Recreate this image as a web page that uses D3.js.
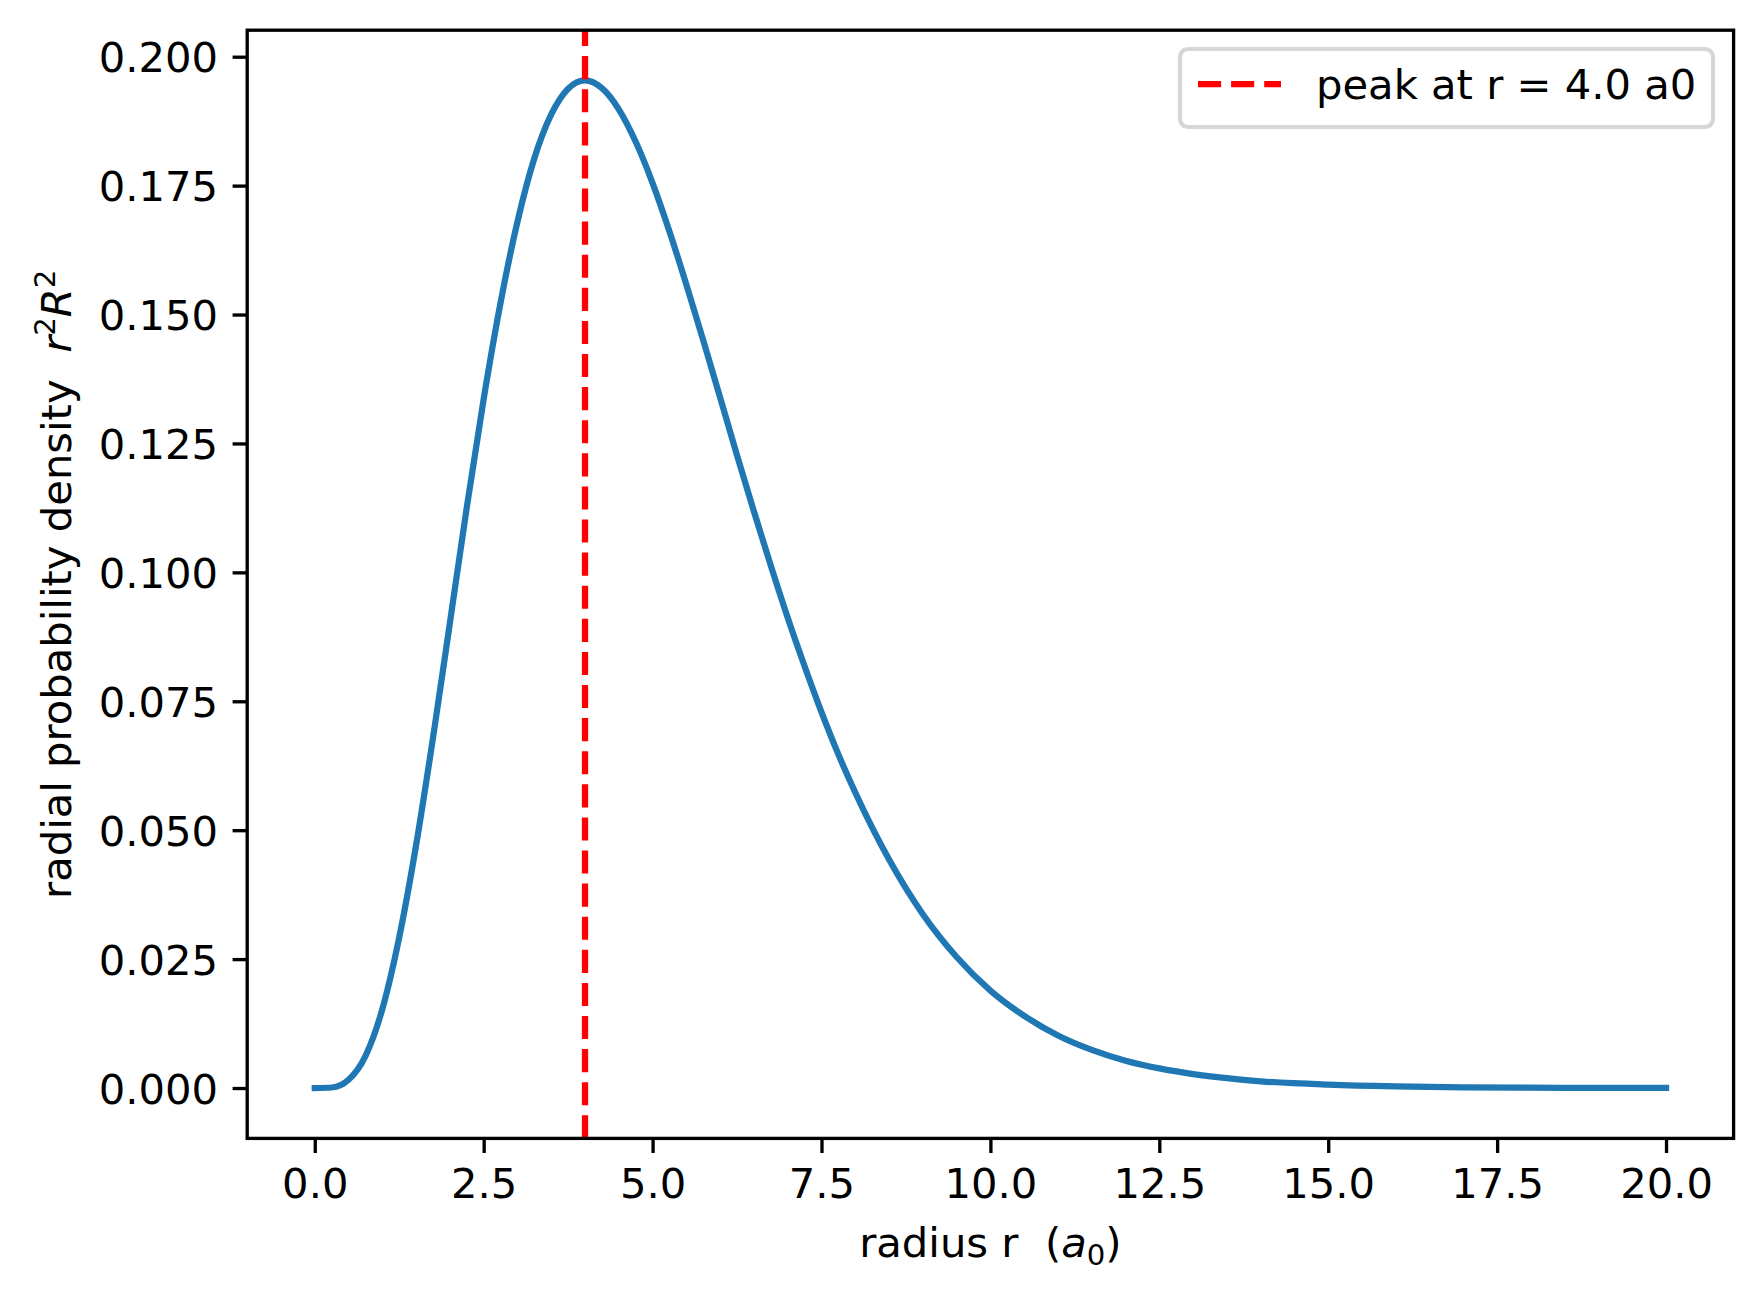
<!DOCTYPE html>
<html>
<head>
<meta charset="utf-8">
<script src="https://cdn.jsdelivr.net/npm/d3@7"></script>
<style>
  body { margin: 0; background: #fff; }
  text { font-family: "DejaVu Sans", sans-serif; }
</style>
</head>
<body>
<div id="chart"></div>
<script>
// values
const radius = [0, 0.25, 0.5, 0.75, 1, 1.25, 1.5, 1.75, 2, 2.25, 2.5, 2.75, 3, 3.25, 3.5, 3.75,
  4, 4.25, 4.5, 4.75, 5, 5.25, 5.5, 5.75, 6, 6.25, 6.5, 6.75, 7, 7.25, 7.5, 7.75,
  8, 8.5, 9, 9.5, 10, 10.5, 11, 11.5, 12, 12.5, 13, 13.5, 14, 15, 16, 17, 18, 19, 20];
const density = [0, 0.0001, 0.0016, 0.0062, 0.0153, 0.0292, 0.0471, 0.0679, 0.0902, 0.1126, 0.1336, 0.1523, 0.1680, 0.1803, 0.1888, 0.1938,
  0.1954, 0.1939, 0.1898, 0.1835, 0.1755, 0.1661, 0.1558, 0.1450, 0.1339, 0.1227, 0.1118, 0.1013, 0.0912, 0.0818, 0.0729, 0.0647,
  0.0573, 0.0443, 0.0337, 0.0254, 0.0189, 0.0140, 0.0102, 0.0074, 0.0053, 0.0038, 0.0027, 0.0019, 0.0013, 0.00065, 0.00031, 0.00014, 0.00007, 0.00003, 0.00001];
const peakR = 4.0;
const xTicks = [0, 2.5, 5, 7.5, 10, 12.5, 15, 17.5, 20];
const yTicks = [0, 0.025, 0.05, 0.075, 0.1, 0.125, 0.15, 0.175, 0.2];

const W = 1763, H = 1298;
const box = {l: 247.2, r: 1733.6, t: 30.2, b: 1138.4};
const fs = 41.7;          // 10pt at 300 dpi
const spineW = 3.33, tickLen = 14.6;

const svg = d3.select("#chart").append("svg")
    .attr("width", W).attr("height", H);
svg.append("rect").attr("width", W).attr("height", H).attr("fill", "#fff");

const x = d3.scaleLinear().domain([-1, 21]).range([box.l, box.r]);
const y = d3.scaleLinear().domain([-0.00977, 0.20514]).range([box.b, box.t]);

svg.append("clipPath").attr("id", "clip")
    .append("rect")
    .attr("x", box.l).attr("y", box.t)
    .attr("width", box.r - box.l).attr("height", box.b - box.t);

const plot = svg.append("g").attr("clip-path", "url(#clip)");

//curve
const pts = radius.map((r, i) => [r, density[i]]);
plot.append("path")
    .datum(pts)
    .attr("fill", "none")
    .attr("stroke", "#1f77b4")
    .attr("stroke-width", 6.25)
    .attr("stroke-linecap", "square")
    .attr("stroke-linejoin", "round")
    .attr("d", d3.line()
        .x(d => x(d[0]))
        .y(d => y(d[1]))
        .curve(d3.curveMonotoneX));

//peak marker
plot.append("line")
    .attr("x1", x(peakR)).attr("x2", x(peakR))
    .attr("y1", box.b).attr("y2", box.t)
    .attr("stroke", "red")
    .attr("stroke-width", 6.25)
    .attr("stroke-dasharray", "23.1 10");

//axes
const axisX = d3.axisBottom(x).tickValues(xTicks).tickFormat(d3.format(".1f"))
    .tickSize(tickLen).tickPadding(14.6);
const axisY = d3.axisLeft(y).tickValues(yTicks).tickFormat(d3.format(".3f"))
    .tickSize(tickLen).tickPadding(14.6);

const gx = svg.append("g").attr("transform", `translate(0,${box.b})`).call(axisX);
const gy = svg.append("g").attr("transform", `translate(${box.l},0)`).call(axisY);
[gx, gy].forEach(g => {
    g.select(".domain").remove();
    g.selectAll(".tick line").attr("stroke", "#000").attr("stroke-width", spineW);
    g.selectAll(".tick text").attr("fill", "#000")
        .style("font-family", "DejaVu Sans").attr("font-size", fs);
});
gx.selectAll(".tick text").attr("dy", null).attr("y", tickLen + 14.6 + 30.4);
gy.selectAll(".tick text").attr("dy", "0.36em");

//frame
svg.append("rect")
    .attr("x", box.l).attr("y", box.t)
    .attr("width", box.r - box.l).attr("height", box.b - box.t)
    .attr("fill", "none")
    .attr("stroke", "#000")
    .attr("stroke-width", spineW)
    .attr("stroke-linejoin", "miter");

//labels
const xl = svg.append("text")
    .attr("x", (box.l + box.r) / 2)
    .attr("y", 1257)
    .attr("text-anchor", "middle")
    .attr("font-size", fs);
xl.append("tspan").text("radius r\u00a0\u00a0(");
xl.append("tspan").attr("font-style", "italic").text("a");
xl.append("tspan").attr("font-size", fs * 0.7).attr("dy", 8).text("0");
xl.append("tspan").attr("dy", -8).text(")");

const yl = svg.append("text")
    .attr("transform", `translate(71,${(box.t + box.b) / 2}) rotate(-90)`)
    .attr("text-anchor", "middle")
    .attr("font-size", fs);
yl.append("tspan").text("radial probability density\u00a0\u00a0");
yl.append("tspan").attr("font-style", "italic").text("r");
yl.append("tspan").attr("font-size", fs * 0.7).attr("dy", -16).text("2");
yl.append("tspan").attr("font-style", "italic").attr("dy", 16).text("R");
yl.append("tspan").attr("font-size", fs * 0.7).attr("dy", -16).text("2");

//legend
const lg = svg.append("g");
lg.append("rect")
    .attr("x", 1180).attr("y", 49)
    .attr("width", 533).attr("height", 78)
    .attr("rx", 8).attr("ry", 8)
    .attr("fill", "rgba(255,255,255,0.8)")
    .attr("stroke", "#d6d6d6")
    .attr("stroke-width", 4.17);
lg.append("line")
    .attr("x1", 1198).attr("x2", 1281)
    .attr("y1", 84).attr("y2", 84)
    .attr("stroke", "red")
    .attr("stroke-width", 6.25)
    .attr("stroke-dasharray", "23.1 10");
lg.append("text")
    .attr("x", 1316).attr("y", 98.5)
    .attr("font-size", fs)
    .text(`peak at r = ${peakR.toFixed(1)} a0`);
</script>
</body>
</html>
